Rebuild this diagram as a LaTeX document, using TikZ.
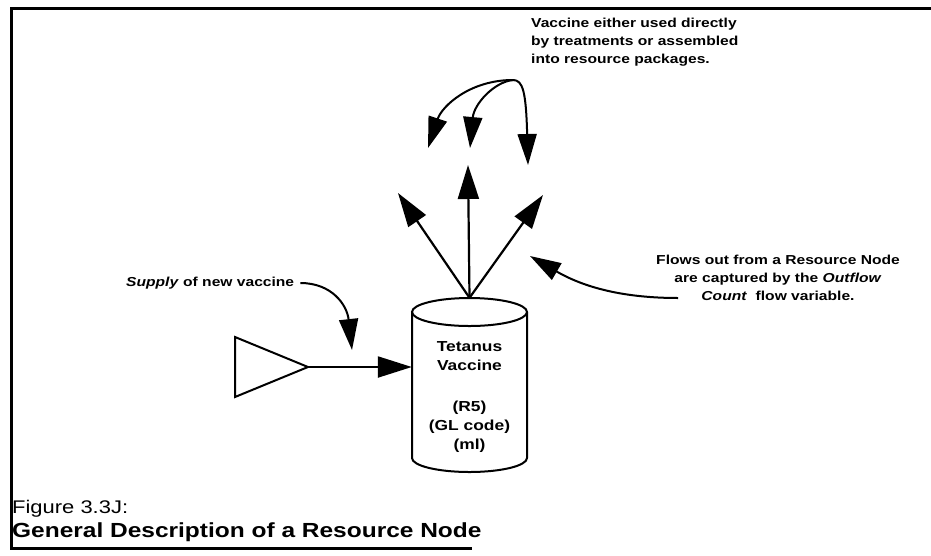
\documentclass[tikz,border=0pt]{standalone}
\usepackage{fontspec}
\setmainfont{Liberation Sans}[FakeStretch=1.2]
\usetikzlibrary{arrows.meta,calc}

\begin{document}
\begin{tikzpicture}[x=1pt,y=-1pt,
  lbl/.style={font=\bfseries\fontsize{13}{18}\selectfont, inner sep=0pt},
  flow/.style={line width=2.2pt, -{Triangle[length=34pt,width=21pt]}},
  note/.style={line width=2pt, -{Triangle[length=31pt,width=19pt]}},
  frame/.style={line width=3pt},
  body/.style={line width=2pt}]
\useasboundingbox (0,0) rectangle (931,555);

% page frame (open on the right)
\draw[frame] (931,8) -- (11,8) -- (11,548) -- (472,548);

% resource node: a vertical cylinder
\node[minimum width=115pt, minimum height=174pt, inner sep=0pt] (cyl) at (469.5,385) {};
\draw[body] (469.5,312) ellipse [x radius=57.5pt, y radius=14pt];
\draw[body] (412,312) -- (412,458)
  arc[start angle=180, end angle=360, x radius=57.5pt, y radius=14pt] -- (527,312);
\node[inner sep=0pt, align=center, font=\bfseries\fontsize{14.5}{19}\selectfont] (cyltext) at (469.5,397)
  {Tetanus\\Vaccine\\[22pt](R5)\\(GL code)\\(ml)};

% supply source and inflow
\draw[body] (235,337) -- (308,367) -- (235,397) -- cycle;
\coordinate (src) at (308,367);
\draw[flow] (src) -- (cyl.west |- src);

\node[lbl, anchor=west] (supply) at (126,283) {\textit{Supply} of new vaccine};
\draw[note] ([xshift=6pt]supply.east) .. controls (332,283) and (347,305) .. (352,350);

% outflows
\coordinate (up1) at (398,193);
\coordinate (up2) at (468,165);
\coordinate (up3) at (543,195);
\draw[flow] (cyl.north) -- (up1);
\draw[flow] (cyl.north) -- (up2);
\draw[flow] (cyl.north) -- (up3);

% note on how the vaccine is used
\node[lbl, anchor=north west, align=left] (usetext) at (531,18)
  {Vaccine either used directly\\by treatments or assembled\\into resource packages.};
\coordinate (hub) at (513,80);
\coordinate (use1) at (428,148);
\coordinate (use2) at (470,148);
\coordinate (use3) at (528,165);
\draw[note] (hub) .. controls (470,80) and (442,106) .. (use1);
\draw[note] (hub) .. controls (494,82) and (474,104) .. (use2);
\draw[note] (hub) .. controls (523,80) and (526,92) .. (use3);

% note on the outflow count
\node[lbl, align=center] (outtext) at (778,278)
  {Flows out from a Resource Node\\are captured by the \textit{Outflow}\\\textit{Count}\ \ flow variable.};
\coordinate (outtail) at (678,298);
\coordinate (outtip) at (530,256);
\draw[note] (outtail) .. controls (625,298) and (585,288) .. (outtip);

% caption
\node[anchor=west, inner sep=0pt, font=\fontsize{18.3}{22}\selectfont] (figno) at (12,509) {Figure 3.3J:};
\node[anchor=west, inner sep=0pt, font=\bfseries\fontsize{20.4}{24}\selectfont] (figtitle) at (12,532) {General Description of a Resource Node};
\end{tikzpicture}
\end{document}
